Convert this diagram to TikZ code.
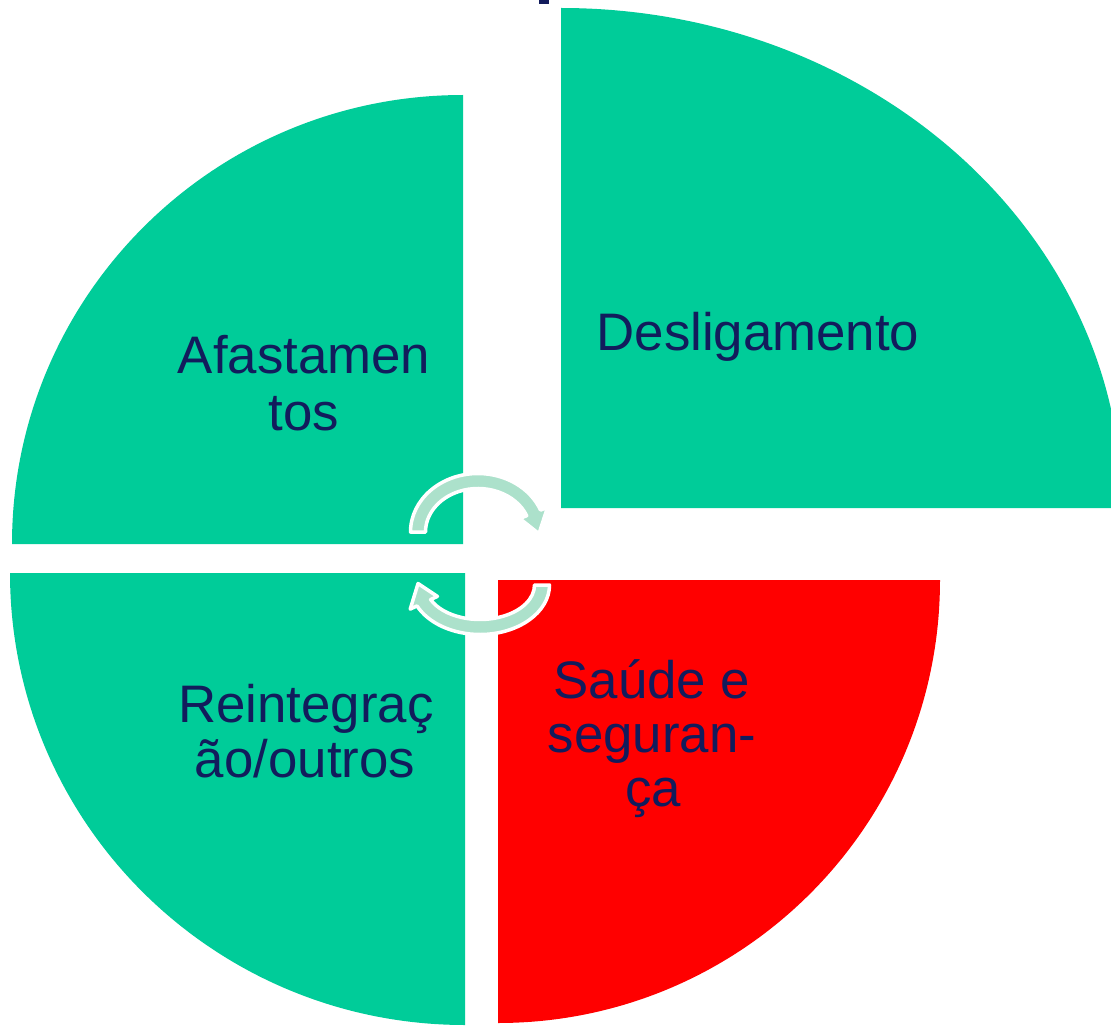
\documentclass[tikz,border=0pt]{standalone}
\usepackage{fontspec}
\setmainfont{Liberation Sans}
\definecolor{segGreen}{RGB}{0,204,153}
\definecolor{segRed}{RGB}{255,0,0}
\definecolor{txtNavy}{RGB}{18,28,92}
\definecolor{arrLight}{RGB}{172,225,203}
\tikzset{
  seg/.style={draw=none},
  lbl/.style={anchor=base, inner sep=0pt, text=txtNavy, font=\fontsize{52.8}{55}\selectfont},
  cyc/.style={fill=arrLight, draw=white, line width=3.5pt, line join=round}
}
\begin{document}
\begin{tikzpicture}[x=1pt,y=-1pt]
\useasboundingbox (0,0) rectangle (1111,1027);
\clip (0,0) rectangle (1111,1027);
\fill[white] (0,0) rectangle (1111,1027);
% title fragment
\fill[txtNavy] (539,0) rectangle (549,4);
% quadrants
\fill[segGreen] (561,508) -- (561,8) arc[start angle=270,end angle=360,x radius=561,y radius=500] -- cycle;
\fill[segGreen] (463,544) -- (12,544) arc[start angle=180,end angle=270,x radius=451,y radius=449] -- cycle;
\fill[segGreen] (465,573) -- (465,1025) arc[start angle=90,end angle=180,x radius=455,y radius=452] -- cycle;
\fill[segRed] (498,580) -- (940,580) arc[start angle=0,end angle=90,x radius=442,y radius=443] -- cycle;
% labels
\node[lbl] (desl) at (758,350) {Desligamento};
\node[lbl] (afa1) at (304,373) {Afastamen};
\node[lbl] (afa2) at (304,430) {tos};
\node[lbl] (rei1) at (306,722) {Reintegraç};
\node[lbl] (rei2) at (305,777) {ão/outros};
\node[lbl] (sau1) at (652,698) {Saúde e};
\node[lbl] (sau2) at (652,752) {seguran-};
\node[lbl] (sau3) at (653,806) {ça};
% upper circular arrow
\begin{scope}[shift={(478,532)}]
\path[cyc] (180:67.5 and 58.5) arc[start angle=180,end angle=338,x radius=67.5,y radius=58.5]
  -- (338:75 and 66) -- (2:61 and 51) -- (338:45 and 36) -- (338:52.5 and 43.5)
  arc[start angle=338,end angle=180,x radius=52.5,y radius=43.5] -- cycle;
\end{scope}
% lower circular arrow
\begin{scope}[shift={(480,585)}]
\path[cyc] (0:69.5 and 49.5) arc[start angle=0,end angle=155,x radius=69.5,y radius=49.5]
  -- (155:77 and 57) -- (182:62 and 42) -- (155:47 and 27) -- (155:54.5 and 34.5)
  arc[start angle=155,end angle=0,x radius=54.5,y radius=34.5] -- cycle;
\end{scope}
\end{tikzpicture}
\end{document}
